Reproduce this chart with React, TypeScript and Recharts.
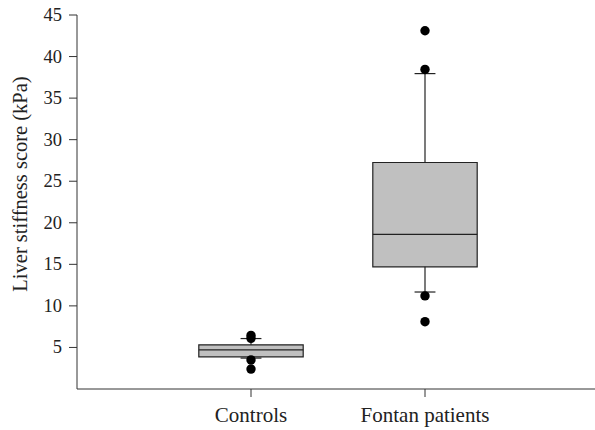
import React from "react";
import {
  ComposedChart,
  XAxis,
  YAxis,
  Scatter,
  ReferenceArea,
  ReferenceLine,
} from "recharts";

const categories = ["Controls", "Fontan patients"];
const positions = [1, 2];
const q1 = [3.87, 14.7];
const median = [4.71, 18.6];
const q3 = [5.31, 27.25];
const whiskerLow = [3.72, 11.67];
const whiskerHigh = [6.07, 37.95];
const outliers = [
  [6.45, 6.1, 3.5, 2.4],
  [43.1, 38.45, 11.2, 8.1],
];
const yTicks = [5, 10, 15, 20, 25, 30, 35, 40, 45];

const font = "Liberation Serif";
const ink = "#222";
const boxHalf = 0.3;
const capHalf = 0.06;

const outlierData = outliers.flatMap((vals, i) =>
  vals.map((v) => ({ x: positions[i], y: v }))
);

const Dot = (props: any) => (
  <circle cx={props.cx} cy={props.cy} r={4.7} fill="#000" />
);

const XTick = (props: any) => (
  <text
    x={props.x}
    y={props.y}
    dy={15}
    textAnchor="middle"
    fill={ink}
    fontFamily={font}
    fontSize={21}
  >
    {categories[positions.indexOf(props.payload.value)]}
  </text>
);

const YTick = (props: any) => (
  <text
    x={props.x}
    y={props.y}
    dy={6}
    textAnchor="end"
    fill={ink}
    fontFamily={font}
    fontSize={18.5}
  >
    {props.payload.value}
  </text>
);

export default function App() {
  return (
    <div style={{ position: "absolute", left: 0, top: 0 }}>
      <ComposedChart
        width={599}
        height={430}
        margin={{ top: 15, right: 0, bottom: 1, left: 0 }}
      >
        <XAxis
          type="number"
          dataKey="x"
          domain={[0, 3]}
          ticks={positions}
          height={40}
          tickSize={8}
          tickMargin={10}
          stroke="#333"
          tick={<XTick />}
        />
        <YAxis
          type="number"
          domain={[0, 45]}
          ticks={yTicks}
          width={77}
          tickSize={8}
          tickMargin={7}
          stroke="#333"
          tick={<YTick />}
          label={{
            content: () => (
              <text
                x={20}
                y={184}
                transform="rotate(-90 20 184)"
                textAnchor="middle"
                dominantBaseline="central"
                fill={ink}
                fontFamily={font}
                fontSize={20.5}
              >
                Liver stiffness score (kPa)
              </text>
            ),
          }}
        />
        {positions.map((p, i) => (
          <ReferenceLine
            key={`wh${i}`}
            segment={[
              { x: p, y: q3[i] },
              { x: p, y: whiskerHigh[i] },
            ]}
            stroke={ink}
            strokeWidth={1.2}
          />
        ))}
        {positions.map((p, i) => (
          <ReferenceLine
            key={`wl${i}`}
            segment={[
              { x: p, y: q1[i] },
              { x: p, y: whiskerLow[i] },
            ]}
            stroke={ink}
            strokeWidth={1.2}
          />
        ))}
        {positions.map((p, i) => (
          <ReferenceLine
            key={`ch${i}`}
            segment={[
              { x: p - capHalf, y: whiskerHigh[i] },
              { x: p + capHalf, y: whiskerHigh[i] },
            ]}
            stroke={ink}
            strokeWidth={1.2}
          />
        ))}
        {positions.map((p, i) => (
          <ReferenceLine
            key={`cl${i}`}
            segment={[
              { x: p - capHalf, y: whiskerLow[i] },
              { x: p + capHalf, y: whiskerLow[i] },
            ]}
            stroke={ink}
            strokeWidth={1.2}
          />
        ))}
        {positions.map((p, i) => (
          <ReferenceArea
            key={`box${i}`}
            x1={p - boxHalf}
            x2={p + boxHalf}
            y1={q1[i]}
            y2={q3[i]}
            fill="#c0c0c0"
            fillOpacity={1}
            stroke={ink}
            strokeWidth={1.2}
          />
        ))}
        {positions.map((p, i) => (
          <ReferenceLine
            key={`med${i}`}
            segment={[
              { x: p - boxHalf, y: median[i] },
              { x: p + boxHalf, y: median[i] },
            ]}
            stroke={ink}
            strokeWidth={1.2}
          />
        ))}
        <Scatter
          data={outlierData}
          dataKey="y"
          shape={Dot}
          isAnimationActive={false}
        />
      </ComposedChart>
    </div>
  );
}
